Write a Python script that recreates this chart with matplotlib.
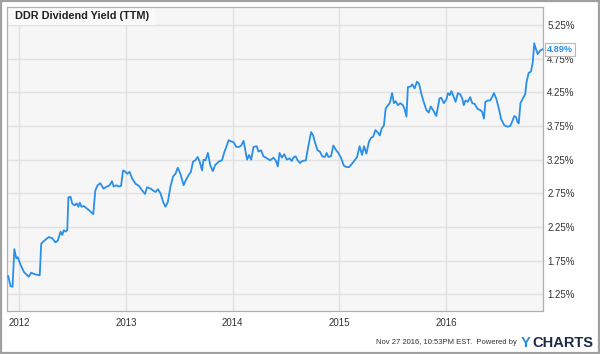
import matplotlib
matplotlib.use("Agg")
import matplotlib.pyplot as plt
from matplotlib.patches import Rectangle
import pandas as pd

plt.rcParams['font.family'] = ['Liberation Sans', 'DejaVu Sans']

title = "DDR Dividend Yield (TTM)"
dates = [
    "2011-11-25", "2011-12-03", "2011-12-10", "2011-12-16", "2011-12-23", "2011-12-28",
    "2012-01-07", "2012-01-18", "2012-02-03", "2012-02-12", "2012-02-21", "2012-03-12",
    "2012-03-17", "2012-03-26", "2012-04-12", "2012-04-24", "2012-05-05", "2012-05-13",
    "2012-05-22", "2012-05-28", "2012-06-02", "2012-06-09", "2012-06-14", "2012-06-18",
    "2012-06-25", "2012-07-01", "2012-07-09", "2012-07-16", "2012-07-22", "2012-07-27",
    "2012-08-02", "2012-08-10", "2012-08-27", "2012-09-11", "2012-09-18", "2012-09-26",
    "2012-10-05", "2012-10-16", "2012-10-28", "2012-11-06", "2012-11-14", "2012-11-20",
    "2012-11-29", "2012-12-07", "2012-12-15", "2012-12-22", "2012-12-30",
    "2013-01-05", "2013-01-13", "2013-01-22", "2013-02-03", "2013-02-14", "2013-02-22",
    "2013-03-07", "2013-03-14", "2013-03-26", "2013-04-04", "2013-04-12", "2013-04-20",
    "2013-04-29", "2013-05-08", "2013-05-16", "2013-05-24", "2013-06-02", "2013-06-11",
    "2013-06-19", "2013-06-27", "2013-07-06", "2013-07-17", "2013-07-25", "2013-08-03",
    "2013-08-11", "2013-08-18", "2013-08-26", "2013-09-03", "2013-09-10", "2013-09-18",
    "2013-09-23", "2013-09-30", "2013-10-08", "2013-10-16", "2013-10-25", "2013-11-02",
    "2013-11-14", "2013-11-25", "2013-12-04", "2013-12-10", "2013-12-18", "2013-12-27",
    "2014-01-04", "2014-01-13", "2014-01-23", "2014-01-30", "2014-02-07", "2014-02-13",
    "2014-02-19", "2014-02-26", "2014-03-05", "2014-03-13", "2014-03-24", "2014-03-30",
    "2014-04-08", "2014-04-16", "2014-04-28", "2014-05-09", "2014-05-20", "2014-05-28",
    "2014-06-04", "2014-06-10", "2014-06-18", "2014-06-26", "2014-07-05", "2014-07-14",
    "2014-07-22", "2014-07-27", "2014-08-04", "2014-08-11", "2014-08-19", "2014-08-27",
    "2014-09-08", "2014-09-16", "2014-09-26", "2014-10-03", "2014-10-09", "2014-10-18",
    "2014-10-26", "2014-11-03", "2014-11-12", "2014-11-18", "2014-11-24", "2014-12-03",
    "2014-12-11", "2014-12-19", "2014-12-28",
    "2015-01-06", "2015-01-16", "2015-01-25", "2015-02-03", "2015-02-11", "2015-02-22",
    "2015-03-02", "2015-03-11", "2015-03-19", "2015-03-26", "2015-04-03", "2015-04-12",
    "2015-04-20", "2015-04-26", "2015-05-04", "2015-05-11", "2015-05-19", "2015-05-25",
    "2015-06-02", "2015-06-08", "2015-06-16", "2015-06-22", "2015-06-30", "2015-07-06",
    "2015-07-12", "2015-07-20", "2015-07-28", "2015-08-06", "2015-08-12", "2015-08-18",
    "2015-08-23", "2015-09-02", "2015-09-07", "2015-09-15", "2015-09-23", "2015-09-30",
    "2015-10-08", "2015-10-16", "2015-10-25", "2015-11-02", "2015-11-09", "2015-11-17",
    "2015-11-28", "2015-12-09", "2015-12-15", "2015-12-24",
    "2016-01-02", "2016-01-07", "2016-01-13", "2016-01-19", "2016-01-27", "2016-02-02",
    "2016-02-10", "2016-02-18", "2016-02-25", "2016-03-01", "2016-03-07", "2016-03-15",
    "2016-03-23", "2016-03-30", "2016-04-07", "2016-04-18", "2016-04-26", "2016-05-03",
    "2016-05-09", "2016-05-14", "2016-05-22", "2016-05-30", "2016-06-06", "2016-06-12",
    "2016-06-20", "2016-06-29", "2016-07-07", "2016-07-18", "2016-07-29", "2016-08-07",
    "2016-08-13", "2016-08-21", "2016-08-27", "2016-09-01", "2016-09-05", "2016-09-11",
    "2016-09-19", "2016-09-27", "2016-10-02", "2016-10-09", "2016-10-17", "2016-10-23",
    "2016-10-28", "2016-11-03", "2016-11-09", "2016-11-17", "2016-11-25",
]
yields = [
    1.52, 1.37, 1.36, 1.92, 1.78, 1.80,
    1.68, 1.58, 1.51, 1.57, 1.55, 1.53,
    2.00, 2.04, 2.10, 2.08, 2.02, 2.05,
    2.18, 2.13, 2.20, 2.18, 2.20, 2.69,
    2.70, 2.60, 2.57, 2.60, 2.55, 2.61,
    2.55, 2.56, 2.50, 2.44, 2.79, 2.87,
    2.90, 2.82, 2.85, 2.87, 2.93, 2.85,
    2.87, 2.85, 2.86, 3.09, 3.07,
    3.04, 3.07, 2.97, 2.89, 2.86, 2.81,
    2.74, 2.84, 2.82, 2.79, 2.77, 2.81,
    2.75, 2.62, 2.55, 2.62, 2.85, 3.00,
    3.04, 3.13, 3.04, 2.87, 2.95, 3.02,
    3.07, 3.22, 3.24, 3.29, 3.22, 3.09,
    3.25, 3.24, 3.35, 3.17, 3.08, 3.17,
    3.22, 3.24, 3.37, 3.44, 3.54, 3.52,
    3.51, 3.44, 3.44, 3.46, 3.53, 3.39,
    3.25, 3.32, 3.25, 3.44, 3.45, 3.37,
    3.39, 3.30, 3.27, 3.24, 3.28, 3.24,
    3.15, 3.35, 3.28, 3.33, 3.25, 3.27,
    3.23, 3.28, 3.30, 3.24, 3.20, 3.23,
    3.24, 3.44, 3.66, 3.61, 3.51, 3.39,
    3.37, 3.30, 3.29, 3.35, 3.29, 3.30,
    3.46, 3.40, 3.35,
    3.28, 3.16, 3.14, 3.14, 3.18, 3.24,
    3.29, 3.45, 3.32, 3.45, 3.34, 3.52,
    3.58, 3.59, 3.69, 3.66, 3.61, 3.71,
    3.76, 4.01, 4.06, 4.09, 4.24, 4.09,
    4.12, 4.06, 4.09, 4.06, 4.00, 3.89,
    4.33, 4.34, 4.37, 4.31, 4.41, 4.38,
    4.23, 4.11, 3.99, 3.95, 4.04, 3.99,
    3.90, 4.16, 4.17, 4.09,
    4.15, 4.24, 4.21, 4.27, 4.18, 4.11,
    4.24, 4.22, 4.16, 4.06, 4.13, 4.11,
    4.18, 4.09, 4.08, 4.00, 3.99, 3.96,
    3.86, 4.11, 4.13, 4.13, 4.18, 4.24,
    4.16, 4.01, 3.85, 3.76, 3.74, 3.75,
    3.81, 3.90, 3.88, 3.81, 3.79, 4.09,
    4.16, 4.22, 4.41, 4.54, 4.56, 4.70,
    4.98, 4.89, 4.82, 4.87, 4.89,
]
ytick_vals = [1.25, 1.75, 2.25, 2.75, 3.25, 3.75, 4.25, 4.75, 5.25]
ytick_labels = ["1.25%", "1.75%", "2.25%", "2.75%", "3.25%", "3.75%", "4.25%", "4.75%", "5.25%"]
xtick_years = ["2012", "2013", "2014", "2015", "2016"]
last_label = "4.89%"
footer = "Nov 27 2016, 10:53PM EST.  Powered by"

x = pd.to_datetime(dates)
line_color = "#2a8fe8"

fig = plt.figure(figsize=(6.0, 3.54), dpi=100)
ax = fig.add_axes([7 / 600, 1 - 311 / 354, 536 / 600, 304 / 354])
ax.set_facecolor("#f6f6f6")
ax.plot(x, yields, color=line_color, lw=1.3, zorder=3, solid_joinstyle="round")

ax.set_xlim(pd.Timestamp("2011-11-21"), pd.Timestamp("2016-11-27"))
ax.set_ylim(1.0, 5.52)
ax.set_yticks(ytick_vals)
ax.set_yticklabels(ytick_labels)
ax.set_xticks(pd.to_datetime([y + "-01-01" for y in xtick_years]))
ax.set_xticklabels(xtick_years)
ax.yaxis.tick_right()
ax.tick_params(axis="both", length=0, labelsize=7.0, colors="#333333")
ax.tick_params(axis="y", pad=3)
ax.tick_params(axis="x", pad=5)
ax.grid(True, color="#e1e1e1", lw=1.0, zorder=1)
ax.set_axisbelow(True)
for s in ax.spines.values():
    s.set_color("#b0b0b0")
    s.set_linewidth(0.9)

# title box
ax.add_patch(Rectangle((0, 1 - 18 / 304), 148 / 536, 18 / 304, transform=ax.transAxes,
                       facecolor="#fafafa", edgecolor="none", zorder=2))
ax.text(8 / 536, 1 - 9 / 304, title, transform=ax.transAxes, fontsize=7.8,
        fontweight="bold", color="#222222", va="center", ha="left", zorder=4)

# last-value label
ax.annotate(last_label, xy=(1.0, yields[-1]), xycoords=("axes fraction", "data"),
            xytext=(3, 0), textcoords="offset points", fontsize=6.6, fontweight="bold",
            color=line_color, va="center", ha="left", annotation_clip=False,
            bbox=dict(boxstyle="square,pad=0.2", fc="white", ec="#b8b8b8", lw=0.8), zorder=5)

# footer
fig.text(517 / 600, 1 - 343 / 354, footer, fontsize=5.5, color="#333333",
         ha="right", va="center")
fig.text(521 / 600, 1 - 343 / 354, "Y", fontsize=10.5, fontweight="bold",
         color="#1e8fe6", ha="left", va="center")
fig.text(532 / 600, 1 - 343 / 354, "CHARTS", fontsize=10.5, fontweight="bold",
         color="#1b2a47", ha="left", va="center")

# outer figure border
fig.patches.append(Rectangle((0.001, 0.002), 0.997, 0.996, transform=fig.transFigure,
                             fill=False, edgecolor="#a0a0a0", lw=1.6))

fig.savefig("out.png", dpi=100, facecolor="white")
